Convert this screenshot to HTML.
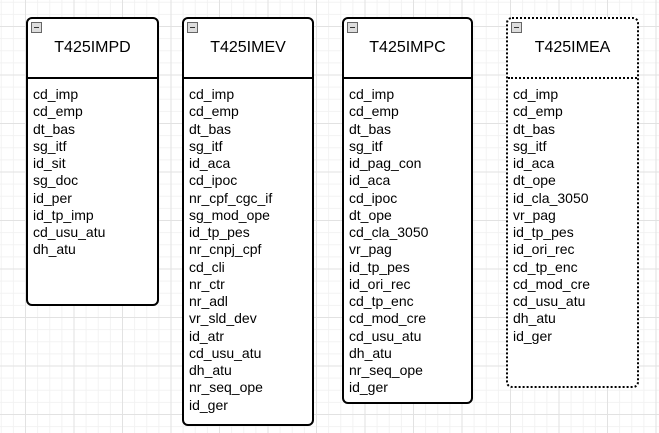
<!DOCTYPE html>
<html><head><style>
body{margin:0;width:659px;height:433px;overflow:hidden;background:#fff;
background-image:
linear-gradient(#e2e2e2 1px,transparent 1px),
linear-gradient(90deg,#e2e2e2 1px,transparent 1px),
linear-gradient(#f2f2f2 1px,transparent 1px),
linear-gradient(90deg,#f2f2f2 1px,transparent 1px);
background-size:48.5px 48.5px,48.5px 48.5px,12.125px 12.125px,12.125px 12.125px;
background-position:0 26px,25px 0,0 26px,25px 0;
font-family:"Liberation Sans",sans-serif;position:relative}
.b{position:absolute;top:17px;border:2px solid #000;border-radius:6px;background:#fff;box-sizing:border-box}
.b.d{border-style:dotted}
.h{height:58px;border-bottom:2px solid #000;text-align:center;font-size:16px;line-height:58px;position:relative}
.d .h{border-bottom:2px dotted #000}
.m{position:absolute;left:3px;top:3px;width:9px;height:9px;border:1px solid #666;background:#ddd;line-height:0}
.m:after{content:"";position:absolute;left:2px;top:4px;width:5px;height:1px;background:#333}
.f{padding:7px 0 0 5px;font-size:14px;line-height:17.25px}
</style></head><body>
<div class="b" style="left:26px;width:133px;height:289px"><div class="h"><span class="m"></span>T425IMPD</div><div class="f">cd_imp<br>cd_emp<br>dt_bas<br>sg_itf<br>id_sit<br>sg_doc<br>id_per<br>id_tp_imp<br>cd_usu_atu<br>dh_atu</div></div>
<div class="b" style="left:182px;width:132px;height:409px"><div class="h"><span class="m"></span>T425IMEV</div><div class="f">cd_imp<br>cd_emp<br>dt_bas<br>sg_itf<br>id_aca<br>cd_ipoc<br>nr_cpf_cgc_if<br>sg_mod_ope<br>id_tp_pes<br>nr_cnpj_cpf<br>cd_cli<br>nr_ctr<br>nr_adl<br>vr_sld_dev<br>id_atr<br>cd_usu_atu<br>dh_atu<br>nr_seq_ope<br>id_ger</div></div>
<div class="b" style="left:342px;width:131px;height:387px"><div class="h"><span class="m"></span>T425IMPC</div><div class="f">cd_imp<br>cd_emp<br>dt_bas<br>sg_itf<br>id_pag_con<br>id_aca<br>cd_ipoc<br>dt_ope<br>cd_cla_3050<br>vr_pag<br>id_tp_pes<br>id_ori_rec<br>cd_tp_enc<br>cd_mod_cre<br>cd_usu_atu<br>dh_atu<br>nr_seq_ope<br>id_ger</div></div>
<div class="b d" style="left:506px;width:133px;height:371px"><div class="h"><span class="m"></span>T425IMEA</div><div class="f">cd_imp<br>cd_emp<br>dt_bas<br>sg_itf<br>id_aca<br>dt_ope<br>id_cla_3050<br>vr_pag<br>id_tp_pes<br>id_ori_rec<br>cd_tp_enc<br>cd_mod_cre<br>cd_usu_atu<br>dh_atu<br>id_ger</div></div>
</body></html>
